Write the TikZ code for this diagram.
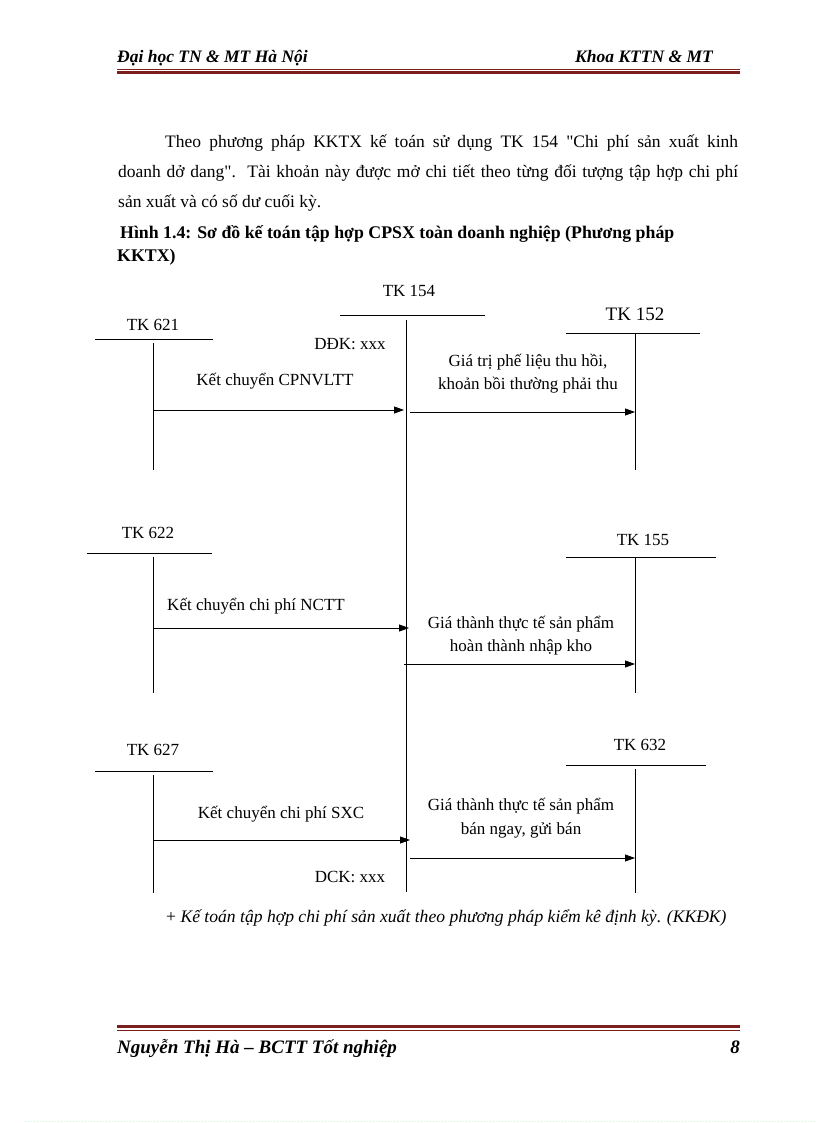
\documentclass[tikz,border=0pt]{standalone}
\usepackage{fontspec}
\setmainfont{Liberation Serif}
\usetikzlibrary{arrows.meta}
\definecolor{rulered}{RGB}{122,30,30}
\newcommand{\strq}{\XeTeXglyph\XeTeXcharglyph"22\relax}
\begin{document}
\begin{tikzpicture}[x=1pt,y=-1pt,
  lbl/.style={font=\fontsize{17}{20}\selectfont, inner sep=0pt},
  acct/.style={line width=0.8pt},
  flow/.style={-{Triangle[length=10pt,width=7pt]}, line width=0.8pt}]
\useasboundingbox (0,0) rectangle (816,1123);
% page header
\node[anchor=base west, inner sep=0pt, font=\fontsize{17.5}{20}\selectfont\bfseries\itshape] (hleft) at (117,63) {Đại học TN \& MT Hà Nội};
\node[anchor=base east, inner sep=0pt, font=\fontsize{17.5}{20}\selectfont\bfseries\itshape] (hright) at (713,63) {Khoa KTTN \& MT};
\draw[rulered, line width=0.8pt] (117,69.5) -- (740,69.5);
\fill[rulered] (117,71.5) rectangle (740,74.5);
% text
\node[anchor=north west, inner sep=0pt, text width=620pt, align=justify, font=\fontsize{17.5}{30}\selectfont] (para) at (118,135)
  {\hspace*{47pt}Theo phương pháp KKTX kế toán sử dụng TK 154 \strq Chi phí sản xuất kinh\linebreak doanh dở dang\strq.\ \ Tài khoản này được mở chi tiết theo từng đối tượng tập hợp chi phí\linebreak sản xuất và có số dư cuối kỳ.};
\node[anchor=north west, inner sep=0pt, align=left, font=\fontsize{17.8}{23}\selectfont\bfseries] (cap) at (117,225)
  {\hspace*{3pt}Hình 1.4: Sơ đồ kế toán tập hợp CPSX toàn doanh nghiệp (Phương pháp\\KKTX)};
% TK 154
\node[lbl] (t154) at (409,291) {TK 154};
\coordinate (t154l) at (340,315);
\coordinate (t154r) at (485,315);
\coordinate (t154top) at (406,320);
\coordinate (t154bot) at (406,892);
\draw[acct] (t154l) -- (t154r);
\draw[acct] (t154top) -- (t154bot);
\node[lbl] (ddk) at (350,344) {DĐK: xxx};
\node[lbl] (dck) at (350,877) {DCK: xxx};
% TK 621
\node[lbl] (t621) at (153,325) {TK 621};
\coordinate (t621l) at (95,339);
\coordinate (t621r) at (213,339);
\coordinate (t621top) at (153,343);
\coordinate (t621bot) at (153,470);
\draw[acct] (t621l) -- (t621r);
\draw[acct] (t621top) -- (t621bot);
\coordinate (f621) at (153,410);
\coordinate (e621) at (404,410);
\draw[flow] (f621) -- (e621);
\node[lbl] (k621) at (275,381) {Kết chuyển CPNVLTT};
% TK 152
\node[lbl, font=\fontsize{19}{22}\selectfont] (t152) at (635,314) {TK 152};
\coordinate (t152l) at (566,333);
\coordinate (t152r) at (700,333);
\coordinate (t152top) at (635,333);
\coordinate (t152bot) at (635,470);
\draw[acct] (t152l) -- (t152r);
\draw[acct] (t152top) -- (t152bot);
\coordinate (f152) at (410,412);
\coordinate (e152) at (635,412);
\draw[flow] (f152) -- (e152);
\node[lbl, align=center, font=\fontsize{17}{23}\selectfont] (k152) at (528,374) {Giá trị phế liệu thu hồi,\\khoản bồi thường phải thu};
% TK 622
\node[lbl] (t622) at (148,533) {TK 622};
\coordinate (t622l) at (87,553);
\coordinate (t622r) at (212,553);
\coordinate (t622top) at (153,557);
\coordinate (t622bot) at (153,693);
\draw[acct] (t622l) -- (t622r);
\draw[acct] (t622top) -- (t622bot);
\coordinate (f622) at (153,628);
\coordinate (e622) at (409,628);
\draw[flow] (f622) -- (e622);
\node[lbl] (k622) at (256,606) {Kết chuyển chi phí NCTT};
% TK 155
\node[lbl] (t155) at (643,540) {TK 155};
\coordinate (t155l) at (566,557);
\coordinate (t155r) at (716,557);
\coordinate (t155top) at (635,557);
\coordinate (t155bot) at (635,693);
\draw[acct] (t155l) -- (t155r);
\draw[acct] (t155top) -- (t155bot);
\coordinate (f155) at (404,664);
\coordinate (e155) at (635,664);
\draw[flow] (f155) -- (e155);
\node[lbl, align=center, font=\fontsize{17}{23}\selectfont] (k155) at (521,636) {Giá thành thực tế sản phẩm\\hoàn thành nhập kho};
% TK 627
\node[lbl] (t627) at (153,750) {TK 627};
\coordinate (t627l) at (95,771);
\coordinate (t627r) at (213,771);
\coordinate (t627top) at (153,775);
\coordinate (t627bot) at (153,893);
\draw[acct] (t627l) -- (t627r);
\draw[acct] (t627top) -- (t627bot);
\coordinate (f627) at (153,840);
\coordinate (e627) at (410,840);
\draw[flow] (f627) -- (e627);
\node[lbl] (k627) at (281,814) {Kết chuyển chi phí SXC};
% TK 632
\node[lbl] (t632) at (640,745) {TK 632};
\coordinate (t632l) at (566,765);
\coordinate (t632r) at (706,765);
\coordinate (t632top) at (635,769);
\coordinate (t632bot) at (635,893);
\draw[acct] (t632l) -- (t632r);
\draw[acct] (t632top) -- (t632bot);
\coordinate (f632) at (410,858);
\coordinate (e632) at (635,858);
\draw[flow] (f632) -- (e632);
\node[lbl, align=center, font=\fontsize{17}{24}\selectfont] (k632) at (521,818) {Giá thành thực tế sản phẩm\\bán ngay, gửi bán};
% note
\node[anchor=base west, inner sep=0pt, font=\fontsize{17.6}{20}\selectfont] (note) at (166,922) {+ \textit{Kế toán tập hợp chi phí sản xuất theo phương pháp kiểm kê định kỳ}. \textit{(KKĐK)}};
% page footer
\fill[rulered] (117,1025) rectangle (740,1028);
\draw[rulered, line width=0.8pt] (117,1030.5) -- (740,1030.5);
\node[anchor=base west, inner sep=0pt, font=\fontsize{19}{22}\selectfont\bfseries\itshape] (fleft) at (117,1053) {Nguyễn Thị Hà – BCTT Tốt nghiệp};
\node[anchor=base east, inner sep=0pt, font=\fontsize{19}{22}\selectfont\bfseries\itshape] (fright) at (740,1053) {8};
\draw[green!25, dotted, line width=1pt] (25,1121) -- (816,1121);
\end{tikzpicture}
\end{document}
